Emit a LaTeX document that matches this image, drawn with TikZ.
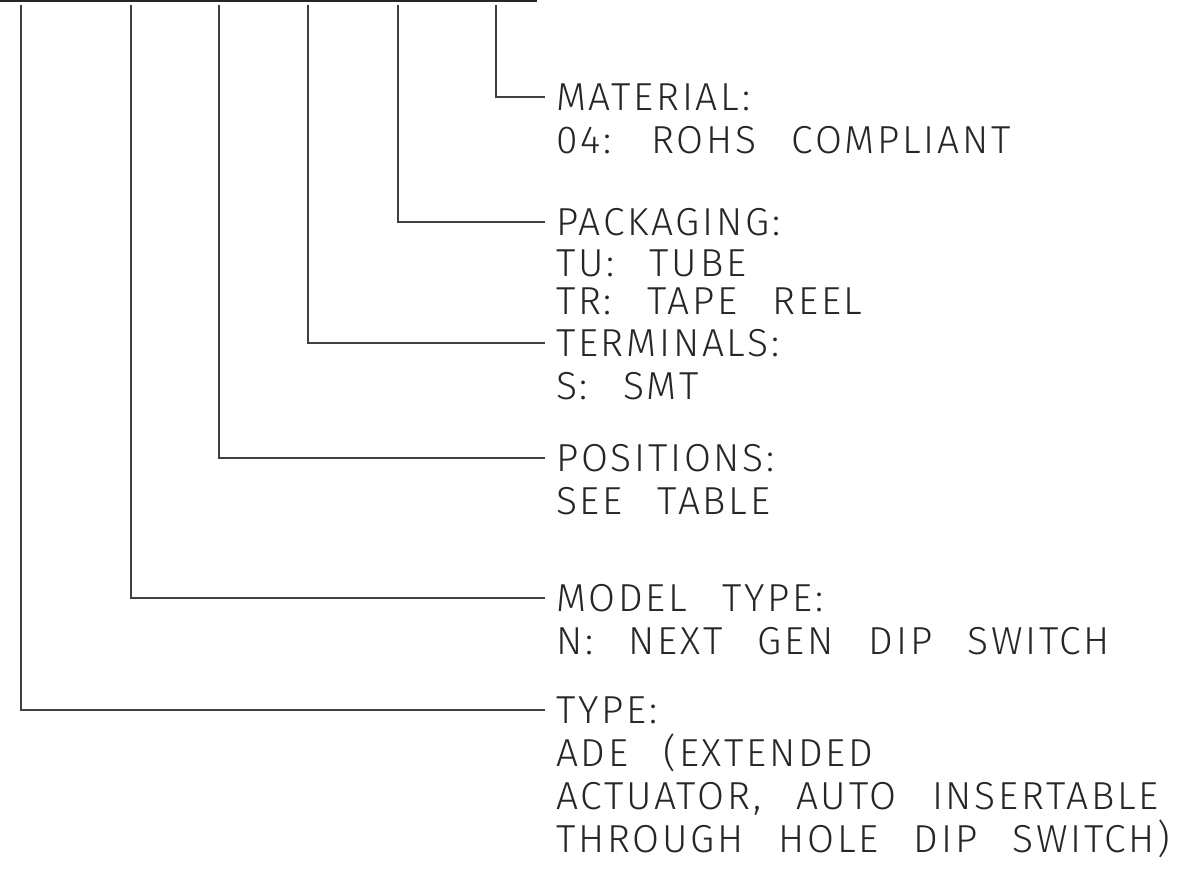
\documentclass[tikz,border=0pt]{standalone}
\usepackage{fontspec}
\newfontfamily\cadfont{Fira Sans Light}[LetterSpace=7,WordSpace=2.6]
\begin{document}
\begin{tikzpicture}[x=1pt,y=-1pt,
  bar/.style={line width=2pt, draw=black!85},
  lead/.style={line width=1.1pt, draw=black!75},
  lbl/.style={anchor=base west, inner sep=0pt, text=black!85,
    font=\cadfont\fontsize{39}{43}\selectfont}]
\useasboundingbox (0,0) rectangle (1177,875);
% top bar
\coordinate (barL) at (0,1);
\coordinate (barR) at (537,1);
\draw[bar] (barL) -- (barR);
% tops of leaders
\coordinate (t1) at (496,5);
\coordinate (t2) at (398,5);
\coordinate (t3) at (308,5);
\coordinate (t4) at (219,5);
\coordinate (t5) at (131,5);
\coordinate (t6) at (21,5);
% ends of leaders
\coordinate (e1) at (545,97);
\coordinate (e2) at (545,222);
\coordinate (e3) at (545,343);
\coordinate (e4) at (545,458);
\coordinate (e5) at (545,598);
\coordinate (e6) at (545,710);
% labels
\node[lbl] (m1) at (556,110) {MATERIAL:};
\node[lbl] (m2) at (556,153) {04: ROHS COMPLIANT};
\node[lbl] (p1) at (556,235) {PACKAGING:};
\node[lbl] (p2) at (556,276) {TU: TUBE};
\node[lbl] (p3) at (556,314) {TR: TAPE REEL};
\node[lbl] (r1) at (556,356) {TERMINALS:};
\node[lbl] (r2) at (556,399) {S: SMT};
\node[lbl] (s1) at (556,471) {POSITIONS:};
\node[lbl] (s2) at (556,514) {SEE TABLE};
\node[lbl] (d1) at (556,611) {MODEL TYPE:};
\node[lbl] (d2) at (556,654) {N: NEXT GEN DIP SWITCH};
\node[lbl] (y1) at (556,723) {TYPE:};
\node[lbl] (y2) at (556,766) {ADE (EXTENDED};
\node[lbl] (y3) at (556,809) {ACTUATOR, AUTO INSERTABLE};
\node[lbl] (y4) at (556,852) {THROUGH HOLE DIP SWITCH)};
% leaders
\draw[lead] (t1) |- (e1);
\draw[lead] (t2) |- (e2);
\draw[lead] (t3) |- (e3);
\draw[lead] (t4) |- (e4);
\draw[lead] (t5) |- (e5);
\draw[lead] (t6) |- (e6);
\end{tikzpicture}
\end{document}
